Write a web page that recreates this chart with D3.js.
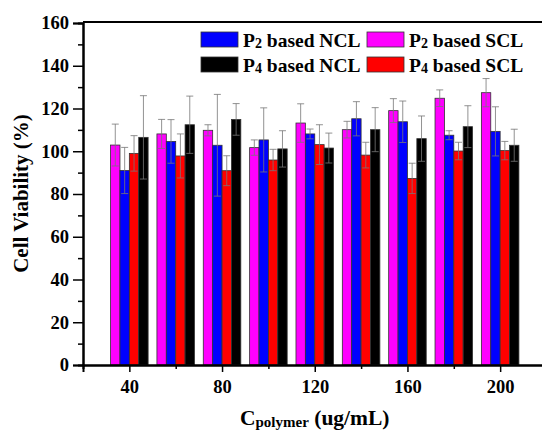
<!DOCTYPE html>
<html lang="en">
<head>
    <meta charset="UTF-8">
    <title>Cell Viability</title>
    <script src="https://d3js.org/d3.v7.min.js"></script>
    <style>
        body { margin: 0; background: #fff; }
        svg { font-family: "Liberation Serif", "Times New Roman", serif; font-weight: bold; }
    </style>
</head>
<body>
    <div id="chart"></div>
    <script>
        // concentrations (ug/mL)
        const conc = [40, 60, 80, 100, 120, 140, 160, 180, 200];
        const majorTicks = [40, 80, 120, 160, 200];
        const minorTicks = [60, 100, 140, 180];
        const yTicks = [0, 20, 40, 60, 80, 100, 120, 140, 160];

        const p2SCL = [102.9, 108.1, 109.8, 101.7, 113.2, 110.1, 119.0, 124.8, 127.4];
        const p2SCLerr = [9.8, 6.8, 2.6, 3.6, 9.0, 3.9, 5.6, 3.9, 6.6];
        const p2NCL = [91.0, 104.6, 102.8, 105.3, 108.1, 115.2, 113.8, 107.5, 109.3];
        const p2NCLerr = [10.8, 10.2, 23.8, 15.0, 2.3, 8.0, 9.7, 2.1, 11.5];
        const p4SCL = [99.0, 97.8, 90.9, 95.9, 103.1, 98.2, 87.3, 100.1, 100.3];
        const p4SCLerr = [8.3, 10.3, 7.0, 5.0, 9.3, 6.0, 7.1, 4.1, 4.3];
        const p4NCL = [106.5, 112.4, 114.9, 101.1, 101.5, 110.1, 105.9, 111.5, 102.8];
        const p4NCLerr = [19.5, 13.4, 7.4, 8.5, 7.0, 10.3, 10.6, 9.8, 7.5];

        // bar order inside each group, left to right
        const series = [
            {key: "p2SCL", p: "2", type: "SCL", values: p2SCL, err: p2SCLerr, color: "#ff00ff"},
            {key: "p2NCL", p: "2", type: "NCL", values: p2NCL, err: p2NCLerr, color: "#0000ff"},
            {key: "p4SCL", p: "4", type: "SCL", values: p4SCL, err: p4SCLerr, color: "#ff0000"},
            {key: "p4NCL", p: "4", type: "NCL", values: p4NCL, err: p4NCLerr, color: "#000000"}
        ];
        // legend order: row by row
        const legendOrder = ["p2NCL", "p2SCL", "p4NCL", "p4SCL"];

        const width = 542, height = 432;
        const mLeft = 83, mTop = 22, mBottom = 365;

        const svg = d3.select("#chart").append("svg")
            .attr("width", width)
            .attr("height", height);

        const x = d3.scaleLinear().domain([20, 220]).range([mLeft, mLeft + 200 * 2.3175]);
        const y = d3.scaleLinear().domain([0, 160]).range([mBottom, mTop + 1]);
        const groupW = (x(60) - x(40)) * 0.81;
        const sub = d3.scaleBand()
            .domain(series.map(s => s.key))
            .range([-groupW / 2, groupW / 2]);

        // bars
        series.forEach(s => {
            const g = svg.append("g");
            g.selectAll("rect")
                .data(conc.map((c, i) => ({c, v: s.values[i], e: s.err[i]})))
                .enter().append("rect")
                .attr("x", d => x(d.c) + sub(s.key))
                .attr("y", d => y(d.v))
                .attr("width", sub.bandwidth())
                .attr("height", d => y(0) - y(d.v))
                .attr("fill", s.color)
                .attr("stroke", "#333")
                .attr("stroke-width", 0.8);
        });

        // error bars
        series.forEach(s => {
            const g = svg.append("g")
                .attr("stroke", "#777")
                .attr("stroke-opacity", 0.8)
                .attr("stroke-width", 1);
            conc.forEach((c, i) => {
                const cx = x(c) + sub(s.key) + sub.bandwidth() / 2;
                const hi = y(s.values[i] + s.err[i]);
                const lo = y(s.values[i] - s.err[i]);
                g.append("line").attr("x1", cx).attr("x2", cx).attr("y1", hi).attr("y2", lo);
                g.append("line").attr("x1", cx - 3.5).attr("x2", cx + 3.5).attr("y1", hi).attr("y2", hi);
                g.append("line").attr("x1", cx - 3.5).attr("x2", cx + 3.5).attr("y1", lo).attr("y2", lo);
            });
        });

        // top frame
        svg.append("line")
            .attr("x1", mLeft).attr("x2", width)
            .attr("y1", mTop).attr("y2", mTop)
            .attr("stroke", "#000").attr("stroke-width", 2);

        // y axis
        const yMinor = svg.append("g")
            .attr("transform", `translate(${mLeft},0)`)
            .call(d3.axisLeft(y).tickValues(d3.range(10, 160, 20)).tickSize(5).tickFormat(""));
        const yAxis = svg.append("g")
            .attr("transform", `translate(${mLeft},0)`)
            .call(d3.axisLeft(y).tickValues(yTicks).tickSize(10).tickPadding(4));

        // x axis
        const xMinor = svg.append("g")
            .attr("transform", `translate(0,${mBottom})`)
            .call(d3.axisBottom(x).tickValues(minorTicks).tickSize(4).tickFormat(""));
        const xAxis = svg.append("g")
            .attr("transform", `translate(0,${mBottom})`)
            .call(d3.axisBottom(x).tickValues(majorTicks).tickSize(7).tickPadding(8));

        [yMinor, yAxis, xMinor, xAxis].forEach(a => {
            a.select(".domain").attr("stroke-width", 2);
            a.selectAll(".tick line").attr("stroke-width", 1.5);
        });
        [yAxis, xAxis].forEach(a => {
            a.selectAll(".tick text")
                .style("font-size", "18.5px")
                .style("font-family", "Liberation Serif")
                .style("font-weight", "bold");
        });

        // axis titles
        svg.append("text")
            .attr("transform", `translate(28,${(mTop + mBottom) / 2}) rotate(-90)`)
            .attr("text-anchor", "middle")
            .style("font-size", "21px")
            .text("Cell Viability (%)");

        const xt = svg.append("text")
            .attr("x", x(120))
            .attr("y", 425)
            .attr("text-anchor", "middle")
            .style("font-size", "21.5px");
        xt.append("tspan").text("C");
        xt.append("tspan").style("font-size", "15px").attr("dy", 2).text("polymer");
        xt.append("tspan").attr("dy", -2).text(" (ug/mL)");

        // legend
        const legend = svg.selectAll(".legend")
            .data(legendOrder.map(k => series.find(s => s.key === k)))
            .enter().append("g")
            .attr("class", "legend")
            .attr("transform", (d, i) => `translate(${201 + (i % 2) * 166},${32 + Math.floor(i / 2) * 25})`);

        legend.append("rect")
            .attr("width", 37)
            .attr("height", 15)
            .attr("fill", d => d.color)
            .attr("stroke", "#333")
            .attr("stroke-width", 0.8);

        const lt = legend.append("text")
            .attr("x", 42)
            .attr("y", 14.5)
            .style("font-size", "19.5px");
        lt.append("tspan").text("P");
        lt.append("tspan").style("font-size", "14px").attr("dy", 1).text(d => d.p);
        lt.append("tspan").attr("dy", -1).text(d => ` based ${d.type}`);
    </script>
</body>
</html>
